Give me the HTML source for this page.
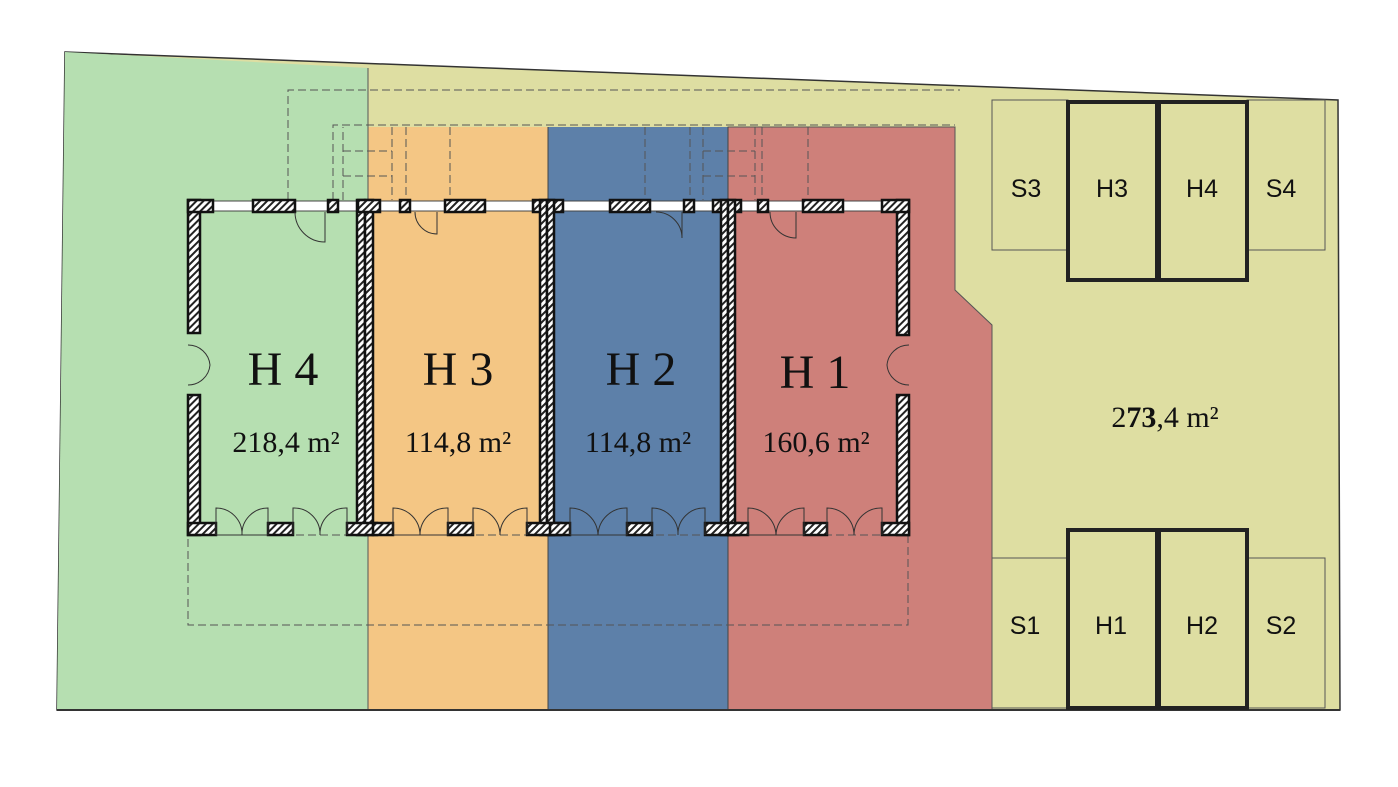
<!DOCTYPE html>
<html><head><meta charset="utf-8"><style>
html,body{margin:0;padding:0;background:#fff;}
svg{display:block}
.t{font-family:"Liberation Serif",serif;fill:#111}
.s{font-family:"Liberation Sans",sans-serif;fill:#111}
</style></head><body>
<svg width="1398" height="787" viewBox="0 0 1398 787" xmlns="http://www.w3.org/2000/svg">
<defs>
<pattern id="h" width="5" height="5" patternUnits="userSpaceOnUse" patternTransform="rotate(45)">
<rect width="5" height="5" fill="#fff"/><rect width="2" height="5" fill="#222"/>
</pattern>
</defs>
<polygon points="65,52 1338,100 1340,710 57,710" fill="#dedea2" stroke="#333" stroke-width="1.5"/>
<polygon points="65,52 368,68 368,710 57,710" fill="#b6dfb1"/>
<rect x="368" y="127" width="180" height="583" fill="#f4c684"/>
<rect x="548" y="127" width="180" height="583" fill="#5d80a9"/>
<polygon points="728,127 955,127 955,290 992,325 992,710 728,710" fill="#ce807a" stroke="#555" stroke-width="1"/>
<line x1="368" y1="68" x2="368" y2="710" stroke="#555" stroke-width="1"/>
<line x1="548" y1="127" x2="548" y2="710" stroke="#444" stroke-width="1"/>
<line x1="728" y1="127" x2="728" y2="710" stroke="#444" stroke-width="1"/>
<line x1="57" y1="710" x2="1340" y2="710" stroke="#333" stroke-width="2"/>
<g fill="none" stroke="#555" stroke-width="1" stroke-dasharray="8,4">
<polyline points="288,200 288,90 960,90"/>
<rect x="188" y="535" width="720" height="90"/>
<polyline points="333,200 333,125 955,125"/>
<polyline points="343,200 343,127"/>
<line x1="343" y1="151" x2="392" y2="151"/><line x1="343" y1="176" x2="392" y2="176"/>
<line x1="392" y1="127" x2="392" y2="200"/><line x1="406" y1="127" x2="406" y2="200"/>
<line x1="450" y1="127" x2="450" y2="200"/>
<line x1="645" y1="127" x2="645" y2="200"/>
<line x1="690" y1="127" x2="690" y2="200"/><line x1="703" y1="127" x2="703" y2="200"/>
<line x1="703" y1="151" x2="755" y2="151"/><line x1="703" y1="176" x2="755" y2="176"/>
<line x1="755" y1="127" x2="755" y2="200"/><line x1="762" y1="127" x2="762" y2="200"/>
<line x1="808" y1="127" x2="808" y2="200"/>
</g>
<rect x="188" y="201" width="721" height="10" fill="#fff" stroke="#444" stroke-width="1"/>
<g fill="url(#h)" stroke="#111" stroke-width="2.5">
<rect x="188" y="200" width="12" height="133"/><rect x="188" y="395" width="12" height="140"/>
<rect x="897" y="200" width="12" height="135"/><rect x="897" y="395" width="12" height="140"/>
<rect x="188" y="200" width="25" height="12"/><rect x="253" y="200" width="42" height="12"/>
<rect x="328" y="200" width="10" height="12"/><rect x="357" y="200" width="8" height="335"/>
<rect x="365" y="200" width="8" height="335"/><rect x="358" y="200" width="22" height="12"/>
<rect x="400" y="200" width="10" height="12"/><rect x="445" y="200" width="40" height="12"/>
<rect x="533" y="200" width="30" height="12"/><rect x="540" y="200" width="7" height="335"/><rect x="547" y="200" width="7" height="335"/>
<rect x="610" y="200" width="40" height="12"/><rect x="684" y="200" width="10" height="12"/>
<rect x="713" y="200" width="28" height="12"/><rect x="721" y="200" width="7" height="335"/><rect x="728" y="200" width="7" height="335"/>
<rect x="758" y="200" width="10" height="12"/><rect x="803" y="200" width="40" height="12"/><rect x="882" y="200" width="27" height="12"/>
<rect x="188" y="523" width="28" height="12"/><rect x="268" y="523" width="25" height="12"/><rect x="347" y="523" width="30" height="12"/>
<rect x="373" y="523" width="20" height="12"/><rect x="448" y="523" width="25" height="12"/><rect x="527" y="523" width="34" height="12"/>
<rect x="550" y="523" width="20" height="12"/><rect x="627" y="523" width="25" height="12"/><rect x="705" y="523" width="34" height="12"/>
<rect x="728" y="523" width="20" height="12"/><rect x="804" y="523" width="23" height="12"/><rect x="882" y="523" width="27" height="12"/>
</g>
<g fill="none" stroke="#333" stroke-width="1">
<path d="M295,212 A30,30 0 0 0 325,242 V212"/>
<path d="M415,212 A22,22 0 0 0 437,234 V212"/>
<path d="M656,212 A26,26 0 0 1 682,238 V212"/>
<path d="M770,212 A26,26 0 0 0 796,238 V212"/>
<path d="M188,345 A22,22 0 0 1 210,365 M188,385 A22,22 0 0 0 210,365"/>
<path d="M909,345 A22,22 0 0 0 887,365 M909,385 A22,22 0 0 1 887,365"/>
</g>
<g fill="none" stroke="#333" stroke-width="1">
<path d="M216,535 V508 A26,26 0 0 1 242,535 A26,26 0 0 1 268,508 V535 H216"/>
<path d="M293,535 V508 A26,26 0 0 1 320,535 A26,26 0 0 1 347,508 V535"/>
<path d="M393,535 V508 A27,27 0 0 1 420,535 A27,27 0 0 1 448,508 V535 H393"/>
<path d="M473,535 V508 A27,27 0 0 1 500,535 A27,27 0 0 1 527,508 V535"/>
<path d="M570,535 V508 A28,28 0 0 1 598,535 A28,28 0 0 1 627,508 V535 H570"/>
<path d="M652,535 V508 A26,26 0 0 1 678,535 A26,26 0 0 1 705,508 V535"/>
<path d="M748,535 V508 A28,28 0 0 1 776,535 A28,28 0 0 1 804,508 V535 H748"/>
<path d="M827,535 V508 A27,27 0 0 1 854,535 A27,27 0 0 1 882,508 V535"/>
</g>
<text class="t" x="283" y="385" font-size="48" text-anchor="middle">H 4</text>
<text class="t" x="458" y="385" font-size="48" text-anchor="middle">H 3</text>
<text class="t" x="641" y="385" font-size="48" text-anchor="middle">H 2</text>
<text class="t" x="815" y="388" font-size="48" text-anchor="middle">H 1</text>
<text class="t" x="286" y="452" font-size="30" text-anchor="middle">218,4 m²</text>
<text class="t" x="458" y="452" font-size="30" text-anchor="middle">114,8 m²</text>
<text class="t" x="638" y="452" font-size="30" text-anchor="middle">114,8 m²</text>
<text class="t" x="816" y="452" font-size="30" text-anchor="middle">160,6 m²</text>
<text class="t" x="1165" y="427" font-size="30" text-anchor="middle">2<tspan font-weight="bold">73</tspan>,4 m²</text>
<g fill="none" stroke="#555" stroke-width="1">
<rect x="992" y="100" width="76" height="150"/><rect x="1247" y="100" width="78" height="150"/>
<rect x="992" y="558" width="76" height="150"/><rect x="1247" y="558" width="78" height="150"/>
</g>
<g fill="none" stroke="#222" stroke-width="4">
<rect x="1068" y="102" width="89" height="178"/><rect x="1159" y="102" width="88" height="178"/>
<rect x="1068" y="530" width="89" height="178"/><rect x="1159" y="530" width="88" height="178"/>
</g>
<g class="s" font-size="25" text-anchor="middle">
<text x="1026" y="197">S3</text><text x="1112" y="197">H3</text><text x="1202" y="197">H4</text><text x="1281" y="197">S4</text>
<text x="1025" y="634">S1</text><text x="1111" y="634">H1</text><text x="1202" y="634">H2</text><text x="1281" y="634">S2</text>
</g>
</svg>
</body></html>
